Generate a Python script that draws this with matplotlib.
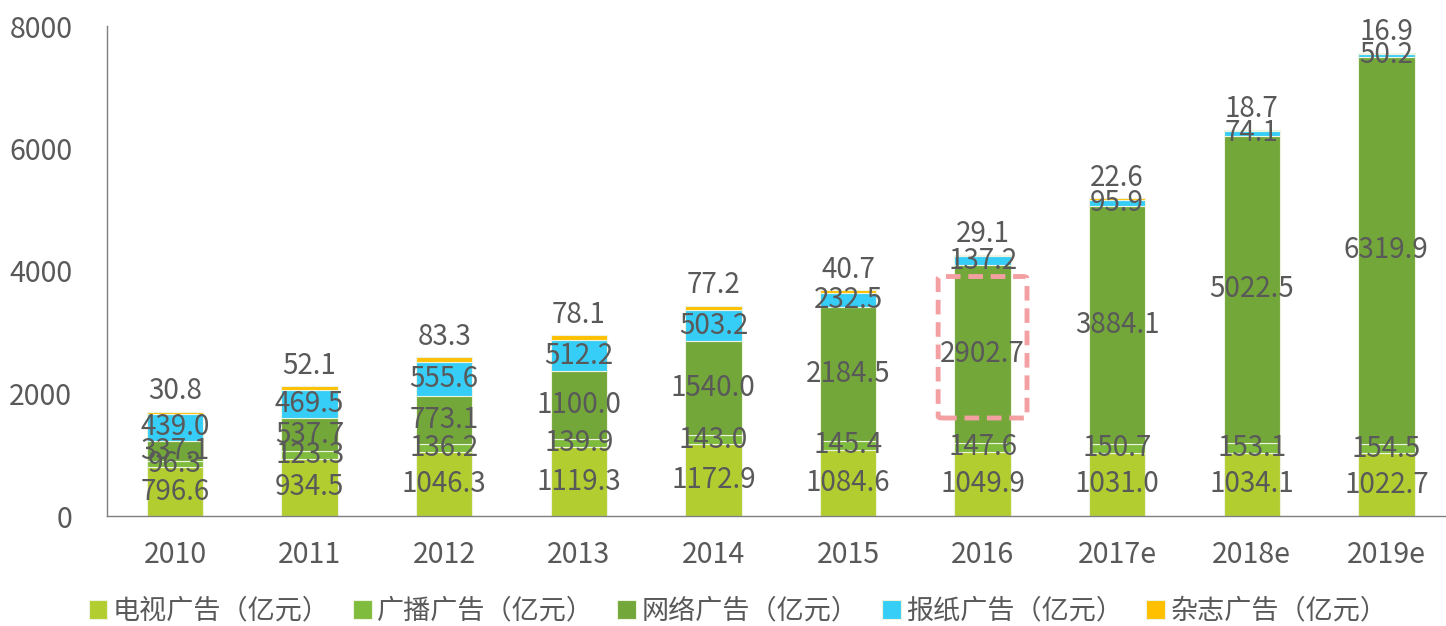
import matplotlib
matplotlib.use("Agg")
import matplotlib.pyplot as plt
from matplotlib.patches import FancyBboxPatch
import numpy as np

plt.rcParams['font.family'] = ['Noto Sans CJK SC', 'DejaVu Sans']

years = ['2010', '2011', '2012', '2013', '2014', '2015', '2016', '2017e', '2018e', '2019e']
tv = [796.6, 934.5, 1046.3, 1119.3, 1172.9, 1084.6, 1049.9, 1031.0, 1034.1, 1022.7]
radio = [96.3, 123.3, 136.2, 139.9, 143.0, 145.4, 147.6, 150.7, 153.1, 154.5]
network = [337.1, 537.7, 773.1, 1100.0, 1540.0, 2184.5, 2902.7, 3884.1, 5022.5, 6319.9]
newspaper = [439.0, 469.5, 555.6, 512.2, 503.2, 232.5, 137.2, 95.9, 74.1, 50.2]
magazine = [30.8, 52.1, 83.3, 78.1, 77.2, 40.7, 29.1, 22.6, 18.7, 16.9]

series_names = ['电视广告（亿元）', '广播广告（亿元）', '网络广告（亿元）', '报纸广告（亿元）', '杂志广告（亿元）']
series = [tv, radio, network, newspaper, magazine]
colors = ['#b2cd30', '#7fbc3d', '#73a73a', '#36cdf7', '#ffc000']

txt = '#595959'
fig = plt.figure(figsize=(14.46, 6.26), dpi=100)
ax = fig.add_axes([107/1446, 110/626, (1446-107)/1446, 490/626])

x = np.arange(len(years))
bottom = np.zeros(len(years))
w = 0.42
handles = []
for i, (vals, c, name) in enumerate(zip(series, colors, series_names)):
    v = np.array(vals)
    b = ax.bar(x, v, w, bottom=bottom, color=c, edgecolor='#eef3e0', linewidth=0.8, label=name, zorder=2)
    handles.append(b)
    for xi, vi, bi in zip(x, v, bottom):
        if i == 4:
            ax.annotate(f'{vi:.1f}', (xi, bi + vi), xytext=(0, 4), textcoords='offset points',
                        ha='center', va='bottom', fontsize=20, color=txt, zorder=5)
        else:
            ax.text(xi, bi + vi / 2, f'{vi:.1f}', ha='center', va='center', fontsize=20, color=txt, zorder=5)
    bottom = bottom + v

# highlight box around 2016 network value
box = FancyBboxPatch((6 - 0.33, 1600), 0.66, 2310, boxstyle='round,pad=0,rounding_size=0.03',
                     fill=False, edgecolor='#f4a0a3', linewidth=3.5, linestyle=(0, (3, 1.6)), zorder=4,
                     mutation_aspect=1000)
ax.add_patch(box)

ax.set_xlim(-0.505, 9.443)
ax.set_ylim(0, 8000)
ax.set_yticks([0, 2000, 4000, 6000, 8000])
ax.set_xticks(x)
ax.set_xticklabels(years)
ax.tick_params(axis='both', length=0, labelsize=20.5, colors=txt)
ax.tick_params(axis='y', pad=25)
ax.tick_params(axis='x', pad=17)
for s in ['top', 'right']:
    ax.spines[s].set_visible(False)
for s in ['left', 'bottom']:
    ax.spines[s].set_color('#7f7f7f')
    ax.spines[s].set_linewidth(1.0)

leg = fig.legend(handles=handles, labels=series_names, loc='center', bbox_to_anchor=(738/1446, 1 - 611/626),
                 ncol=5, frameon=False, fontsize=19.5, handlelength=0.7, handleheight=0.7,
                 handletextpad=0.2, columnspacing=0.85, labelcolor=txt)

fig.savefig('out.png', dpi=100)
